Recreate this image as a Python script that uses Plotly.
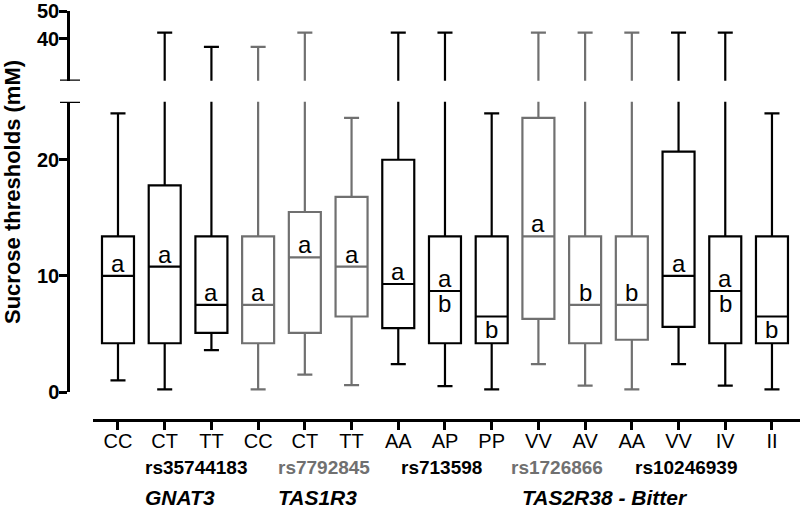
import plotly.graph_objects as go

# genotype boxes, left to right
genotypes = ["CC", "CT", "TT", "CC", "CT", "TT", "AA", "AP", "PP", "VV", "AV", "AA", "VV", "IV", "II"]
grey_box = [False, False, False, True, True, True, False, False, False, True, True, True, False, False, False]

lower_fence = [1.0, 0.23, 3.6, 0.23, 1.5, 0.6, 2.4, 0.5, 0.23, 2.4, 0.55, 0.23, 2.4, 0.55, 0.23]
q1 = [4.2, 4.2, 5.1, 4.2, 5.1, 6.5, 5.5, 4.2, 4.2, 6.3, 4.2, 4.5, 5.6, 4.2, 4.2]
median = [10.0, 10.8, 7.5, 7.5, 11.6, 10.8, 9.3, 8.7, 6.5, 13.4, 7.5, 7.5, 10.0, 8.7, 6.5]
q3 = [13.4, 17.8, 13.4, 13.4, 15.5, 16.8, 20.0, 13.4, 13.4, 23.6, 13.4, 13.4, 20.7, 13.4, 13.4]
upper_fence = [24.0, 42.2, 37.0, 37.0, 42.2, 23.6, 42.2, 42.2, 24.0, 42.2, 42.2, 42.2, 42.2, 42.2, 24.0]

letter_above = ["a", "a", "a", "a", "a", "a", "a", "a", "", "a", "b", "b", "a", "a", ""]
letter_below = ["", "", "", "", "", "", "", "b", "b", "", "", "", "", "b", "b"]

snp_labels = ["rs35744183", "rs7792845", "rs713598", "rs1726866", "rs10246939"]
snp_grey = [False, True, False, True, False]
snp_pos = [1.67, 4.41, 6.92, 9.40, 12.16]

gene_labels = ["GNAT3", "TAS1R3", "TAS2R38 - Bitter"]
gene_pos = [1.33, 4.28, 10.43]

BLACK = "#000000"
GREY = "#707070"
FONT = "Arial, Liberation Sans, sans-serif"

UPPER_LO = 24.65  # bottom of the upper (broken) segment

fig = go.Figure()

# same boxes on both halves of the broken axis; each half clips its own part
for yax in ["y", "y2"]:
    for grey in [False, True]:
        idx = [i for i in range(len(genotypes)) if grey_box[i] == grey]
        fig.add_trace(go.Box(
            x=idx,
            q1=[q1[i] for i in idx],
            median=[median[i] for i in idx],
            q3=[q3[i] for i in idx],
            lowerfence=[lower_fence[i] for i in idx],
            upperfence=[upper_fence[i] for i in idx],
            width=0.685,
            whiskerwidth=0.47,
            line=dict(color=GREY if grey else BLACK, width=2.2),
            fillcolor="white",
            boxpoints=False,
            hoverinfo="skip",
            xaxis="x",
            yaxis=yax,
        ))

annotations = []
for i in range(len(genotypes)):
    if letter_above[i]:
        annotations.append(dict(x=i, y=median[i], xref="x", yref="y2", text=letter_above[i],
                                showarrow=False, yanchor="bottom", yshift=-3,
                                font=dict(family=FONT, size=24, color=BLACK)))
    if letter_below[i]:
        annotations.append(dict(x=i, y=median[i], xref="x", yref="y2", text=letter_below[i],
                                showarrow=False, yanchor="top", yshift=3,
                                font=dict(family=FONT, size=24, color=BLACK)))

H, T, B = 508, 11, 88
ph = H - T - B


def row(px):
    # pixel row from the top of the page -> paper coordinate
    return (H - B - px) / ph


for lab, g, xp in zip(snp_labels, snp_grey, snp_pos):
    annotations.append(dict(x=xp, y=row(467), xref="x", yref="paper", text="<b>%s</b>" % lab,
                            showarrow=False, yanchor="middle",
                            font=dict(family=FONT, size=19, color=GREY if g else BLACK)))
for lab, xp in zip(gene_labels, gene_pos):
    annotations.append(dict(x=xp, y=row(497), xref="x", yref="paper", text="<b><i>%s</i></b>" % lab,
                            showarrow=False, yanchor="middle",
                            font=dict(family=FONT, size=21, color=BLACK)))

annotations.append(dict(x=-56 / 732, y=row(192), xref="paper", yref="paper", xanchor="center",
                        yanchor="middle", text="<b>Sucrose thresholds (mM)</b>", textangle=-90,
                        showarrow=False, font=dict(family=FONT, size=22, color=BLACK)))

# break caps at the ends of the two y axis segments
shapes = [
    dict(type="line", xref="paper", yref="y", x0=-8 / 732, x1=12 / 732, y0=UPPER_LO, y1=UPPER_LO,
         line=dict(color=BLACK, width=2.5)),
    dict(type="line", xref="paper", yref="y2", x0=-8 / 732, x1=12 / 732, y0=25, y1=25,
         line=dict(color=BLACK, width=2.5)),
]

axis_common = dict(showline=True, linecolor=BLACK, linewidth=2.5, ticks="outside",
                   ticklen=8, tickwidth=2.5, tickcolor=BLACK, showgrid=False, zeroline=False,
                   automargin=False, ticklabeloverflow="allow", ticklabelstandoff=-4,
                   tickfont=dict(family=FONT, size=20, color=BLACK, weight="bold"))

fig.update_layout(
    width=800, height=H,
    margin=dict(l=68, r=0, t=T, b=B),
    plot_bgcolor="white", paper_bgcolor="white",
    showlegend=False,
    xaxis=dict(domain=[25 / 732, 1], range=[-0.535, 14.6], anchor="free", position=0,
               tickvals=list(range(len(genotypes))), ticktext=genotypes,
               showline=True, linecolor=BLACK, linewidth=2.5, ticks="outside", ticklen=8,
               tickwidth=2.5, tickcolor=BLACK, showgrid=False, zeroline=False,
               automargin=False, ticklabelstandoff=-6,
               tickfont=dict(family=FONT, size=20, color=BLACK)),
    yaxis=dict(domain=[row(80.7), 1], range=[UPPER_LO, 50.05], tickvals=[40, 50],
               anchor="free", position=0, **axis_common),
    yaxis2=dict(domain=[row(392), row(101.7)], range=[0, 25], tickvals=[0, 10, 20],
                anchor="free", position=0, **axis_common),
    annotations=annotations,
    shapes=shapes,
)

fig.write_html("out.html", config={"displayModeBar": False},
               post_script="document.body.style.margin = '0';")
